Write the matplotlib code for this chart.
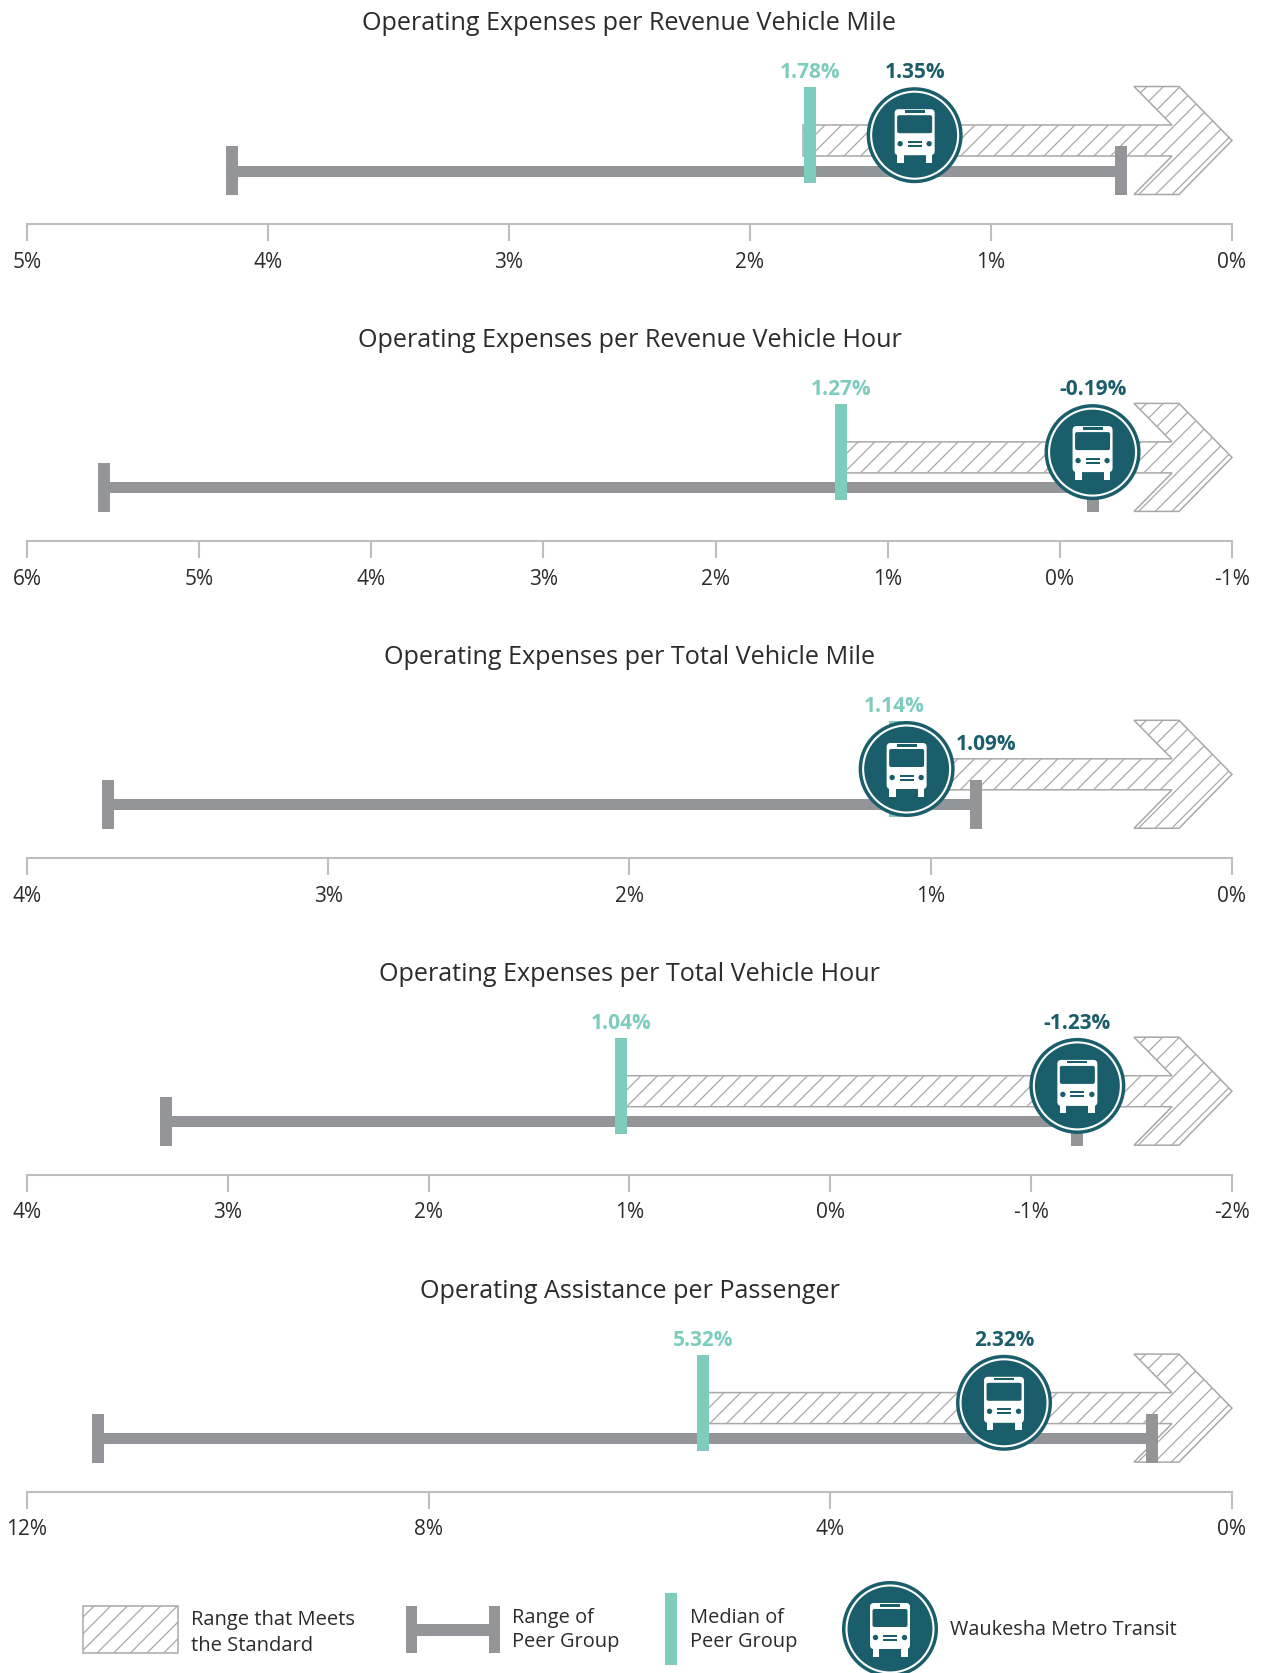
import matplotlib
matplotlib.use("Agg")
import matplotlib.pyplot as plt
from matplotlib.patches import Circle, FancyBboxPatch, Polygon, Rectangle
from matplotlib.transforms import Affine2D

W, H = 1262, 1674

titles = [
    "Operating Expenses per Revenue Vehicle Mile",
    "Operating Expenses per Revenue Vehicle Hour",
    "Operating Expenses per Total Vehicle Mile",
    "Operating Expenses per Total Vehicle Hour",
    "Operating Assistance per Passenger",
]
axis_ticks = [
    [5, 4, 3, 2, 1, 0],
    [6, 5, 4, 3, 2, 1, 0, -1],
    [4, 3, 2, 1, 0],
    [4, 3, 2, 1, 0, -1, -2],
    [12, 8, 4, 0],
]
median_values = [1.78, 1.27, 1.14, 1.04, 5.32]
transit_values = [1.35, -0.19, 1.09, -1.23, 2.32]
peer_low = [4.15, 5.55, 3.73, 3.31, 11.29]
peer_high = [0.46, -0.19, 0.85, -1.23, 0.80]

# small pixel nudges so marks and labels don't collide
median_nudge = [7, 0, 6, 0, 5]
transit_nudge = [8, 0, 3, 0, 5]

TEAL = "#7dccbd"
DARK = "#1b5e6b"
GREY = "#939598"
AXIS = "#bcbec0"
HATCH = "#a8a8a8"
TEXT = "#2b2b2b"

plt.rcParams["font.family"] = ["Open Sans", "DejaVu Sans"]
plt.rcParams["hatch.linewidth"] = 0.9
PT = 72 / 100  # one pixel in points at dpi=100

fig = plt.figure(figsize=(W / 100, H / 100), dpi=100)


def draw_bus(cx, cy):
    """Draw the round bus badge centred on display pixel (cx, cy)."""
    tf = Affine2D().scale(1, -1).translate(cx, cy)
    art = [
        Circle((0, 0), 48, fc=DARK, ec="none"),
        Circle((0, 0), 43.5, fc="none", ec="white", lw=1.5),
        FancyBboxPatch((-17.5, -23.5), 35, 41, boxstyle="round,pad=2.5,rounding_size=4", fc="white", ec="none"),
        Rectangle((-17.5, 16), 6.5, 11.5, fc="white", ec="none"),
        Rectangle((11, 16), 6.5, 11.5, fc="white", ec="none"),
        FancyBboxPatch((-17, -19.5), 34, 17, boxstyle="round,pad=0.5,rounding_size=2", fc=DARK, ec="none"),
        Rectangle((-10, -25), 20, 2.5, fc=DARK, ec="none"),
        Circle((-14.5, 8.5), 2.7, fc=DARK, ec="none"),
        Circle((14.5, 8.5), 2.7, fc=DARK, ec="none"),
        Rectangle((-7, 5.5), 14, 2, fc=DARK, ec="none"),
        Rectangle((-7, 9.5), 14, 2, fc=DARK, ec="none"),
    ]
    for a in art:
        a.set_transform(tf)
        a.set_zorder(6)
        a.set_clip_on(False)
        fig.add_artist(a)


def draw_panel(i):
    axis_y = 225 + 316.9 * i
    ax = fig.add_axes([27 / W, 1 - axis_y / H, 1205 / W, 215 / H])
    ticks = axis_ticks[i]
    ax.set_xlim(ticks[0], ticks[-1])
    ax.set_ylim(0, 215)
    ax.patch.set_alpha(0)
    unit = 1205 / (ticks[0] - ticks[-1])  # pixels per percentage point

    for s in ["top", "left", "right"]:
        ax.spines[s].set_visible(False)
    ax.spines["bottom"].set_color(AXIS)
    ax.spines["bottom"].set_linewidth(1.5)
    ax.set_yticks([])
    ax.set_xticks(ticks, [f"{t}%" for t in ticks])
    ax.tick_params(axis="x", length=17 * PT, width=1.5, color=AXIS, labelsize=15, labelcolor=TEXT, pad=7)
    ax.set_title(titles[i], fontsize=18.1, color=TEXT, y=201 / 215, pad=0, va="center")

    # hatched arrow runs from the peer median to the end of the axis
    tip = ticks[-1]
    start = median_values[i]
    xs = [start, tip + 60 / unit, tip + 98 / unit, tip + 53 / unit, tip,
          tip + 53 / unit, tip + 98 / unit, tip + 60 / unit, start]
    ys = [99, 99, 137.5, 137.5, 83.5, 29.5, 29.5, 68, 68]
    ax.add_patch(Polygon(list(zip(xs, ys)), closed=True, fill=False, hatch="//",
                         edgecolor=HATCH, lw=1.1, zorder=1, clip_on=False))

    # peer group range
    low, high = peer_low[i], peer_high[i]
    ax.plot([low, high], [53.5, 53.5], color=GREY, lw=11 * PT, solid_capstyle="butt", zorder=2)
    for v in (low, high):
        ax.plot([v, v], [29, 78], color=GREY, lw=12 * PT, solid_capstyle="butt", zorder=2)

    # peer median
    mid = Affine2D().translate(median_nudge[i], 0)
    ax.plot([start, start], [41, 137], color=TEAL, lw=12 * PT, solid_capstyle="butt", zorder=3,
            transform=ax.transData + mid)
    ax.text(start, 152.5, f"{start:.2f}%", color=TEAL, fontsize=15, fontweight="bold", ha="center", va="center",
            transform=ax.transData + mid, zorder=7)

    # transit system badge and label
    val = transit_values[i]
    bus = Affine2D().translate(transit_nudge[i], 0)
    cx, cy = (ax.transData + bus).transform((val, 88.8))
    draw_bus(cx, cy)
    lx, ly = 0, 152.5
    if i == 2:
        lx, ly = 79, 114
    ax.text(val, ly, f"{val:.2f}%", color=DARK, fontsize=15, fontweight="bold", ha="center", va="center",
            transform=ax.transData + bus + Affine2D().translate(lx, 0), zorder=7)


for i in range(len(titles)):
    draw_panel(i)

# legend row, laid out in pixels from the top left
leg = fig.add_axes([0, 0, 1, 1])
leg.set_xlim(0, W)
leg.set_ylim(H, 0)
leg.axis("off")
leg.patch.set_alpha(0)

leg.add_patch(Rectangle((83, 1607), 95, 47, fill=False, hatch="//", edgecolor=HATCH, lw=1.1))
leg.text(191, 1633, "Range that Meets\nthe Standard", fontsize=14.5, color=TEXT, va="center", linespacing=1.38)

leg.add_patch(Rectangle((406, 1607), 11, 47, fc=GREY, ec="none"))
leg.add_patch(Rectangle((489, 1607), 11, 47, fc=GREY, ec="none"))
leg.add_patch(Rectangle((417, 1625), 72, 12, fc=GREY, ec="none"))
leg.text(512, 1630, "Range of\nPeer Group", fontsize=14.4, color=TEXT, va="center", linespacing=1.32)

leg.add_patch(Rectangle((665, 1594), 12, 72, fc=TEAL, ec="none"))
leg.text(690, 1630, "Median of\nPeer Group", fontsize=14.4, color=TEXT, va="center", linespacing=1.32)

draw_bus(890, H - 1630)
leg.text(950, 1630, "Waukesha Metro Transit", fontsize=14.3, color=TEXT, va="center")

fig.savefig("out.png", dpi=100, facecolor="white")
